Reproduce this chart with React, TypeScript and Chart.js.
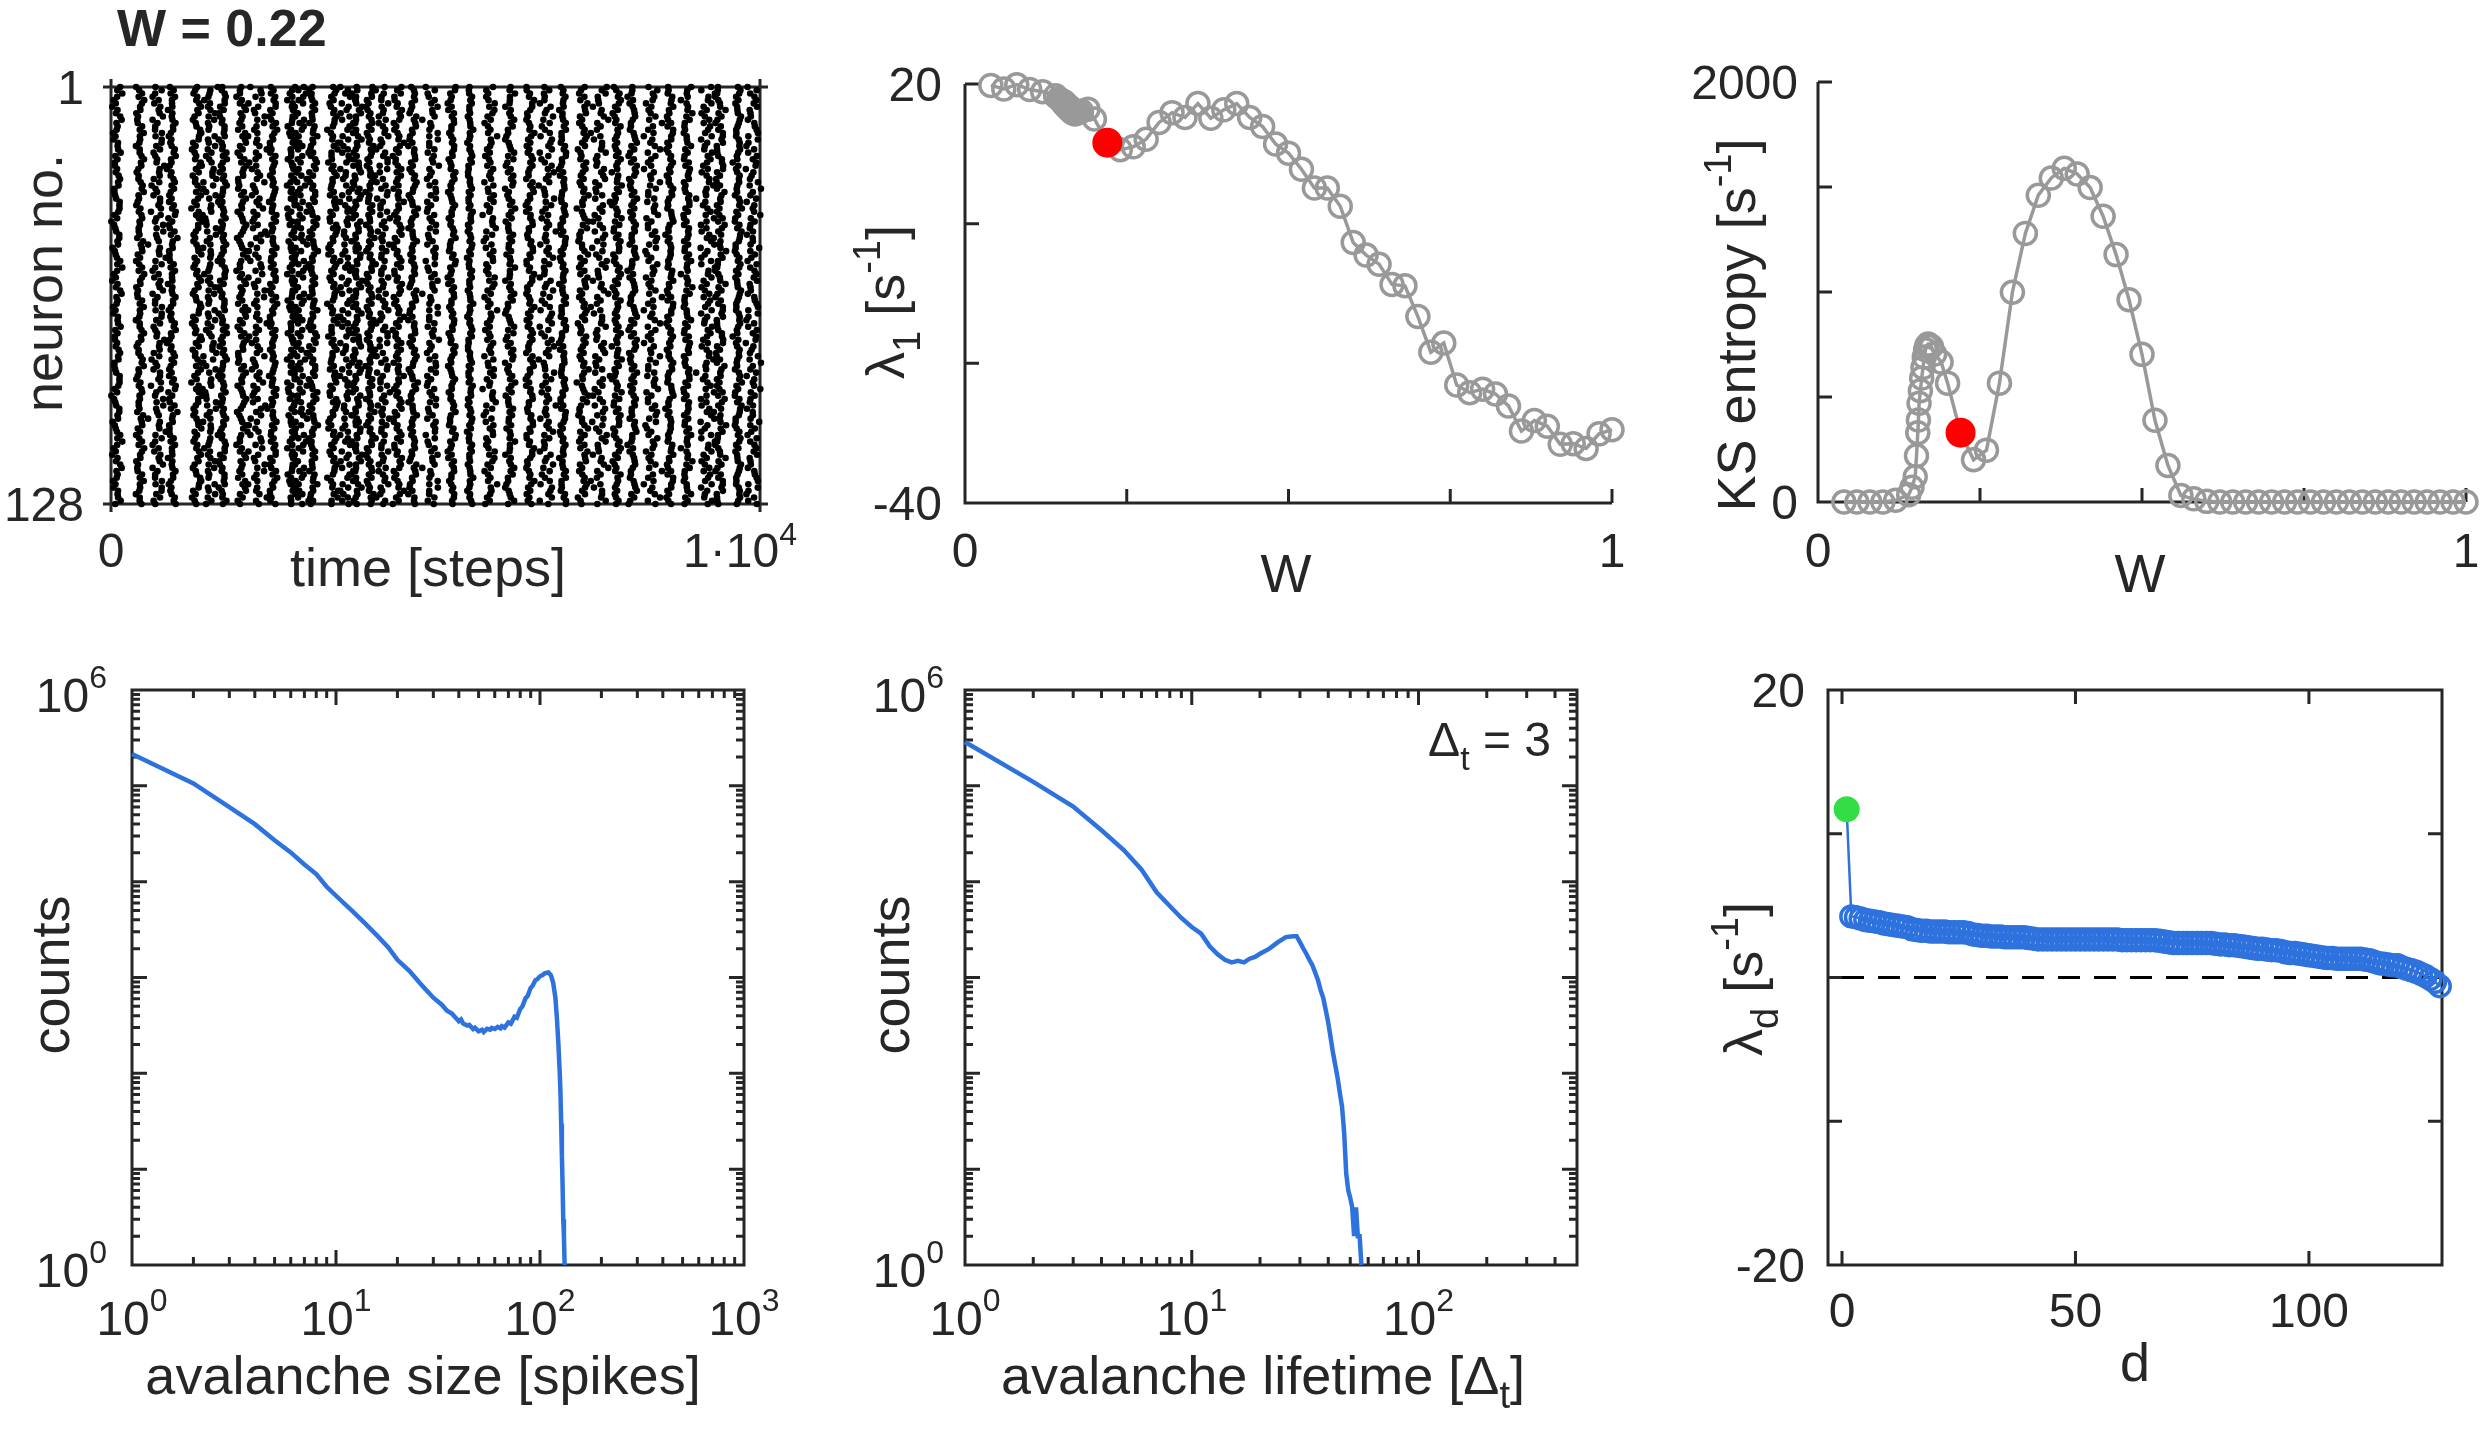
import React, { useEffect, useRef } from 'react';
import { Chart, registerables } from 'chart.js';

Chart.register(...registerables);

const PAGE_W = 2482;
const PAGE_H = 1441;
const FONT = '"Liberation Sans", Arial, Helvetica, sans-serif';
const AXIS_COLOR = '#262626';
const GRAY = '#999999';
const BLUE = '#2E72DE';
const RED = '#FF0000';
const GREEN = '#33DD44';
const TICK = 48;
const EXP = 32;
const LABEL = 54;
const SUB = 38;

// ---------- Panel A: raster (burst onsets in time steps) ----------
const burstOnsets = [92, 447, 724, 940, 1325, 1525, 1726, 2019, 2250, 2496, 2789, 2912, 3112, 3421, 3636, 3790, 3990, 4191, 4422, 4653, 4946, 5254, 5532, 5840, 6148, 6456, 6718, 6965, 7273, 7535, 7797, 8043, 8336, 8613, 8875, 9183, 9383, 9661, 9892];
const burstWander = [1.2, 1.0, 1.4, 1.1, 1.2, 1.5, 1.0, 1.3, 1.5, 1.0, 1.2, 1.4, 1.1, 1.3, 1.5, 1.2, 1.0, 1.4, 1.2, 1.1, 1.4, 1.0, 0.6, 1.3, 1.2, 1.1, 1.4, 1.0, 1.3, 1.5, 1.1, 1.2, 1.4, 1.0, 1.1, 1.5, 1.2, 1.0, 1.4];
const burstScatter = [0.8, 0.7, 1.8, 0.8, 0.9, 1.9, 0.7, 0.9, 2.0, 0.8, 0.9, 1.8, 0.8, 0.9, 2.0, 0.9, 0.7, 1.8, 0.9, 0.8, 1.7, 0.7, 0.5, 1.6, 0.9, 0.8, 1.8, 0.7, 0.9, 2.0, 0.8, 0.9, 1.8, 0.7, 0.8, 2.0, 0.9, 0.7, 1.7];
const spikeJitter = [0, 12, 28, 18, 30, 45, 35, 20, 8, -10, -22, -12, -30, -45, -38, -20, -5, 10, 2, 18, 35, 50, 40, 25, 30, 12, -5, -18, -8, -25, -40, -55, -42, -30, -15, -25, -10, 5, 20, 10, 25, 38, 22, 5, -8, 6, -12, -28, -20, -35, -22, -8, -15];
const neuronCount = 128;

// ---------- Panels B, C: sweep over W ----------
const wSweep = [0.04, 0.06, 0.08, 0.10, 0.12, 0.14, 0.145, 0.15, 0.152, 0.154, 0.155, 0.156, 0.158, 0.16, 0.162, 0.164, 0.166, 0.168, 0.17, 0.175, 0.18, 0.19,
  0.20, 0.22, 0.24, 0.26, 0.28, 0.30, 0.32, 0.34, 0.36, 0.38, 0.40, 0.42, 0.44, 0.46, 0.48, 0.50, 0.52, 0.54, 0.56, 0.58, 0.60,
  0.62, 0.64, 0.66, 0.68, 0.70, 0.72, 0.74, 0.76, 0.78, 0.80, 0.82, 0.84, 0.86, 0.88, 0.90, 0.92, 0.94, 0.96, 0.98, 1.00];
const lambda1 = [19.8, 19.3, 19.9, 19.2, 18.9, 18.3, 17.9, 17.6, 17.2, 17.4, 16.9, 17.1, 16.6, 16.8, 16.2, 16.5, 15.9, 16.2, 15.7, 15.9, 16.1, 16.4,
  15.0, 11.6, 10.6, 11.0, 12.1, 14.5, 15.9, 15.2, 17.2, 15.1, 16.3, 17.2, 15.2, 13.9, 11.4, 10.1, 7.8, 5.1, 5.1, 2.5, -2.7,
  -4.5, -5.8, -8.7, -8.9, -13.3, -18.4, -17.1, -23.1, -24.2, -23.7, -24.4, -26.1, -29.7, -28.2, -29.0, -31.6, -31.5, -32.2, -30.1, -29.5];
const ksEntropy = [0, 0, 0, 0, 8, 35, 70, 120, 220, 330, 390, 470, 530, 590, 640, 690, 725, 745, 752, 740, 705, 667,
  566, 330, 201, 247, 566, 999, 1279, 1461, 1543, 1589, 1562, 1498, 1361, 1178, 963, 703, 389, 174, 31, 15, 3,
  0, 0, 0, 0, 0, 0, 0, 0, 0, 0, 0, 0, 0, 0, 0, 0, 0, 0, 0, 0];
const selectedW = 0.22;

// ---------- Panel D: avalanche sizes ----------
const avalancheSizes = [1, 2, 3, 4, 5, 6, 7, 8, 9, 10, 12, 14, 16, 18, 20, 23, 26, 30, 33, 35, 37, 38, 40, 41, 42, 44, 45, 47, 48, 50, 52, 53, 55, 57, 58, 60, 62, 64, 65, 67, 70, 72, 75, 77, 80, 82, 85, 87, 90, 92, 95, 97, 100, 103, 105, 108, 110, 113, 116, 119, 121, 123, 125, 126, 127, 128, 129, 130, 131, 132];
const sizeCounts = [215000, 106000, 60100, 39800, 27000, 20200, 15100, 12000, 8850, 7130, 4950, 3610, 2700, 2070, 1530, 1160, 855, 615, 520, 450, 420, 395, 350, 365, 330, 315, 320, 290, 300, 275, 285, 270, 292, 285, 298, 290, 305, 295, 310, 300, 340, 330, 390, 380, 470, 500, 610, 640, 780, 820, 940, 960, 1030, 1060, 1100, 1120, 1130, 1060, 885, 615, 379, 207, 100, 62, 30, 14, 7, 3, 2, 1];

// ---------- Panel E: avalanche lifetimes ----------
const lifetimes = [1, 2, 3, 4, 5, 6, 7, 8, 9, 10, 11, 12, 13, 14, 15, 16, 17, 18, 19, 20, 22, 24, 26, 28, 29, 30, 31, 32, 33, 34, 35, 36, 37, 38, 39, 40, 41, 42, 43, 44, 45, 46, 47, 48, 49, 50, 51, 52, 53, 54, 55, 56];
const lifetimeCounts = [287000, 110000, 60800, 34400, 21500, 13400, 7740, 5580, 4180, 3360, 2870, 2120, 1750, 1530, 1440, 1490, 1440, 1570, 1640, 1770, 2000, 2340, 2640, 2700, 2700, 2340, 2020, 1770, 1530, 1350, 1130, 942, 738, 615, 455, 336, 233, 162, 120, 89, 62, 45, 24, 9, 6, 5, 4, 2, 4, 2, 2, 1];

// ---------- Panel F: Lyapunov spectrum ----------
const lyapSpectrum = [11.7,
  4.25, 4.2, 4.1, 4.0, 3.95, 3.9, 3.85, 3.75, 3.7, 3.65,
  3.6, 3.55, 3.5, 3.35, 3.3, 3.25, 3.25, 3.2, 3.2, 3.2,
  3.2, 3.15, 3.15, 3.15, 3.15, 3.1, 3.0, 2.95, 2.9, 2.9,
  2.85, 2.85, 2.85, 2.8, 2.8, 2.8, 2.8, 2.8, 2.75, 2.7,
  2.65, 2.65, 2.65, 2.65, 2.65, 2.65, 2.65, 2.65, 2.65, 2.65,
  2.65, 2.65, 2.65, 2.65, 2.65, 2.65, 2.65, 2.65, 2.6, 2.6,
  2.6, 2.6, 2.6, 2.6, 2.6, 2.6, 2.55, 2.5, 2.45, 2.4,
  2.4, 2.4, 2.4, 2.4, 2.4, 2.4, 2.4, 2.4, 2.35, 2.3,
  2.3, 2.25, 2.25, 2.2, 2.15, 2.1, 2.05, 2.0, 2.0, 1.95,
  1.9, 1.9, 1.85, 1.75, 1.7, 1.7, 1.65, 1.6, 1.55, 1.5,
  1.45, 1.4, 1.35, 1.35, 1.3, 1.3, 1.3, 1.3, 1.3, 1.3,
  1.25, 1.2, 1.1, 1.0, 0.95, 0.9, 0.85, 0.85, 0.7, 0.6,
  0.5, 0.4, 0.25, 0.1, -0.1, -0.3, -0.6];

type Seg = { t: string; size?: number; dy?: number; bold?: boolean };
type TextItem = { segs: Seg[]; x: number; y: number; align: 'left' | 'center' | 'right'; rotate?: boolean };
type TickLabel = { v: number; segs: Seg[]; dx?: number };
type PanelSpec = {
  area: [number, number, number, number];
  box: boolean;
  tickDir: 'in' | 'out';
  tickLen: number;
  xTicks: number[];
  yTicks: number[];
  xMinor?: number[];
  yMinor?: number[];
  minorLen?: number;
  xLabels: TickLabel[];
  xLabelY: number;
  yLabels: TickLabel[];
  yLabelRight: number;
  yLabelDy: number;
  texts: TextItem[];
};

function fontOf(s: Seg) {
  return `${s.bold ? 'bold ' : ''}${s.size || LABEL}px ${FONT}`;
}

function drawRich(ctx: CanvasRenderingContext2D, segs: Seg[], x: number, y: number, align: 'left' | 'center' | 'right', rotate = false) {
  ctx.save();
  ctx.translate(x, y);
  if (rotate) ctx.rotate(-Math.PI / 2);
  ctx.textBaseline = 'alphabetic';
  ctx.textAlign = 'left';
  ctx.fillStyle = AXIS_COLOR;
  const widths = segs.map((s) => {
    ctx.font = fontOf(s);
    return ctx.measureText(s.t).width;
  });
  const total = widths.reduce((a, b) => a + b, 0);
  let cx = align === 'left' ? 0 : align === 'center' ? -total / 2 : -total;
  segs.forEach((s, i) => {
    ctx.font = fontOf(s);
    ctx.fillText(s.t, cx, s.dy || 0);
    cx += widths[i];
  });
  ctx.restore();
}

function decorPlugin(spec: PanelSpec) {
  return {
    id: 'panelDecor',
    beforeDatasetsDraw(chart: any) {
      const ctx: CanvasRenderingContext2D = chart.ctx;
      const { left, right, top, bottom } = chart.chartArea;
      const xs = chart.scales.x;
      const ys = chart.scales.y;
      const dir = spec.tickDir === 'in' ? 1 : -1;
      ctx.save();
      ctx.strokeStyle = AXIS_COLOR;
      ctx.lineWidth = 3;
      ctx.beginPath();
      if (spec.box) {
        ctx.rect(left, top, right - left, bottom - top);
      } else {
        ctx.moveTo(left, top);
        ctx.lineTo(left, bottom);
        ctx.lineTo(right, bottom);
      }
      const xt = (vals: number[], len: number) => {
        vals.forEach((v) => {
          const px = xs.getPixelForValue(v);
          ctx.moveTo(px, bottom);
          ctx.lineTo(px, bottom - dir * len);
          if (spec.box) {
            ctx.moveTo(px, top);
            ctx.lineTo(px, top + dir * len);
          }
        });
      };
      const yt = (vals: number[], len: number) => {
        vals.forEach((v) => {
          const py = ys.getPixelForValue(v);
          ctx.moveTo(left, py);
          ctx.lineTo(left + dir * len, py);
          if (spec.box) {
            ctx.moveTo(right, py);
            ctx.lineTo(right - dir * len, py);
          }
        });
      };
      xt(spec.xTicks, spec.tickLen);
      yt(spec.yTicks, spec.tickLen);
      if (spec.xMinor) xt(spec.xMinor, spec.minorLen || 8);
      if (spec.yMinor) yt(spec.yMinor, spec.minorLen || 8);
      ctx.stroke();
      ctx.restore();
    },
    afterDraw(chart: any) {
      const ctx: CanvasRenderingContext2D = chart.ctx;
      const xs = chart.scales.x;
      const ys = chart.scales.y;
      spec.xLabels.forEach((l) => {
        drawRich(ctx, l.segs, xs.getPixelForValue(l.v) + (l.dx || 0), spec.xLabelY, 'center');
      });
      spec.yLabels.forEach((l) => {
        drawRich(ctx, l.segs, spec.yLabelRight, ys.getPixelForValue(l.v) + spec.yLabelDy, 'right');
      });
      spec.texts.forEach((t) => drawRich(ctx, t.segs, t.x, t.y, t.align, !!t.rotate));
    },
  };
}

const tk = (t: string): Seg[] => [{ t, size: TICK }];
const pow10 = (e: string, dy: number): Seg[] => [{ t: '10', size: TICK }, { t: e, size: EXP, dy }];

function logMinor(maxDecade: number, maxVal: number) {
  const out: number[] = [];
  for (let d = 0; d < maxDecade; d++) {
    for (let k = 2; k <= 9; k++) {
      const v = k * Math.pow(10, d);
      if (v <= maxVal) out.push(v);
    }
  }
  return out;
}

function buildConfig(spec: PanelSpec, datasets: any[], xScale: any, yScale: any) {
  const [l, t, r, b] = spec.area;
  return {
    type: 'scatter',
    data: { datasets },
    options: {
      animation: false,
      responsive: false,
      maintainAspectRatio: false,
      devicePixelRatio: 1,
      events: [],
      layout: { padding: { left: l, top: t, right: PAGE_W - r, bottom: PAGE_H - b } },
      plugins: { legend: { display: false }, tooltip: { enabled: false } },
      scales: { x: { ...xScale, display: false }, y: { ...yScale, display: false } },
      elements: { line: { tension: 0 } },
    },
    plugins: [decorPlugin(spec)],
  };
}

function makeConfigs() {
  // Panel A: raster — each burst is a wavy column of one spike per neuron
  const raster: { x: number; y: number }[] = [];
  const J = spikeJitter.length;
  burstOnsets.forEach((t0, k) => {
    for (let n = 1; n <= neuronCount; n++) {
      const slow = spikeJitter[(2 * n + 11 * k) % J] * burstWander[k];
      const fast = spikeJitter[(7 * n + 3 * k) % J] * burstScatter[k];
      raster.push({ x: t0 + slow + fast, y: n });
    }
  });
  const specA: PanelSpec = {
    area: [111, 87, 760, 504],
    box: true,
    tickDir: 'out',
    tickLen: 8,
    xTicks: [0, 10000],
    yTicks: [1, 128],
    xLabels: [
      { v: 0, segs: tk('0') },
      { v: 10000, segs: [{ t: '1\u00B710', size: TICK }, { t: '4', size: EXP, dy: -22 }], dx: -20 },
    ],
    xLabelY: 567,
    yLabels: [
      { v: 1, segs: tk('1') },
      { v: 128, segs: tk('128') },
    ],
    yLabelRight: 84,
    yLabelDy: 17,
    texts: [
      { segs: [{ t: 'W = 0.22', size: 52, bold: true }], x: 117, y: 46, align: 'left' },
      { segs: [{ t: 'neuron no.' }], x: 62, y: 283, align: 'center', rotate: true },
      { segs: [{ t: 'time [steps]' }], x: 428, y: 586, align: 'center' },
    ],
  };
  const cfgA = buildConfig(
    specA,
    [{ data: raster, pointRadius: 3.3, pointBackgroundColor: '#000000', pointBorderWidth: 0, showLine: false, clip: false }],
    { type: 'linear', min: 0, max: 10000 },
    { type: 'linear', min: 1, max: 128, reverse: true },
  );

  const selIdx = wSweep.indexOf(selectedW);
  const grayDs = (vals: number[]) => ({
    data: wSweep.map((w, i) => ({ x: w, y: vals[i] })),
    showLine: true,
    borderColor: GRAY,
    borderWidth: 3.5,
    pointRadius: 11,
    pointBorderColor: GRAY,
    pointBorderWidth: 3.5,
    pointBackgroundColor: 'rgba(255,255,255,0)',
    clip: false,
  });
  const redDs = (vals: number[]) => ({
    data: [{ x: wSweep[selIdx], y: vals[selIdx] }],
    pointRadius: 15,
    pointBackgroundColor: RED,
    pointBorderWidth: 0,
    showLine: false,
    clip: false,
  });

  // Panel B
  const specB: PanelSpec = {
    area: [965, 84, 1612, 503],
    box: false,
    tickDir: 'in',
    tickLen: 14,
    xTicks: [0, 0.25, 0.5, 0.75, 1],
    yTicks: [-40, -20, 0, 20],
    xLabels: [{ v: 0, segs: tk('0') }, { v: 1, segs: tk('1') }],
    xLabelY: 567,
    yLabels: [{ v: 20, segs: tk('20') }, { v: -40, segs: tk('-40') }],
    yLabelRight: 942,
    yLabelDy: 17,
    texts: [
      {
        segs: [{ t: '\u03BB' }, { t: '1', size: SUB, dy: 16 }, { t: ' [s' }, { t: '-1', size: SUB, dy: -24 }, { t: ']' }],
        x: 904, y: 302, align: 'center', rotate: true,
      },
      { segs: [{ t: 'W' }], x: 1286, y: 592, align: 'center' },
    ],
  };
  const cfgB = buildConfig(specB, [redDs(lambda1), grayDs(lambda1)], { type: 'linear', min: 0, max: 1 }, { type: 'linear', min: -40, max: 20 });

  // Panel C
  const specC: PanelSpec = {
    area: [1818, 82, 2466, 502],
    box: false,
    tickDir: 'in',
    tickLen: 14,
    xTicks: [0, 0.25, 0.5, 0.75, 1],
    yTicks: [0, 500, 1000, 1500, 2000],
    xLabels: [{ v: 0, segs: tk('0') }, { v: 1, segs: tk('1') }],
    xLabelY: 567,
    yLabels: [{ v: 2000, segs: tk('2000') }, { v: 0, segs: tk('0') }],
    yLabelRight: 1798,
    yLabelDy: 17,
    texts: [
      { segs: [{ t: 'KS entropy [s' }, { t: '-1', size: SUB, dy: -24 }, { t: ']' }], x: 1755, y: 325, align: 'center', rotate: true },
      { segs: [{ t: 'W' }], x: 2140, y: 592, align: 'center' },
    ],
  };
  const cfgC = buildConfig(specC, [redDs(ksEntropy), grayDs(ksEntropy)], { type: 'linear', min: 0, max: 1 }, { type: 'linear', min: 0, max: 2000 });

  const blueLine = (xs: number[], ys: number[]) => ({
    data: xs.map((x, i) => ({ x, y: ys[i] })),
    showLine: true,
    borderColor: BLUE,
    borderWidth: 4.5,
    pointRadius: 0,
    clip: false,
  });
  const yLogLabels: TickLabel[] = [
    { v: 1e6, segs: pow10('6', -24) },
    { v: 1, segs: pow10('0', -24) },
  ];

  // Panel D
  const specD: PanelSpec = {
    area: [132, 690, 744, 1265],
    box: true,
    tickDir: 'in',
    tickLen: 15,
    minorLen: 8,
    xTicks: [1, 10, 100, 1000],
    yTicks: [1, 10, 100, 1000, 1e4, 1e5, 1e6],
    xMinor: logMinor(3, 1000),
    yMinor: logMinor(6, 1e6),
    xLabels: [
      { v: 1, segs: pow10('0', -24) },
      { v: 10, segs: pow10('1', -24) },
      { v: 100, segs: pow10('2', -24) },
      { v: 1000, segs: pow10('3', -24) },
    ],
    xLabelY: 1335,
    yLabels: yLogLabels,
    yLabelRight: 107,
    yLabelDy: 22,
    texts: [
      { segs: [{ t: 'counts' }], x: 69, y: 975, align: 'center', rotate: true },
      { segs: [{ t: 'avalanche size [spikes]' }], x: 423, y: 1394, align: 'center' },
    ],
  };
  const cfgD = buildConfig(specD, [blueLine(avalancheSizes, sizeCounts)], { type: 'logarithmic', min: 1, max: 1000 }, { type: 'logarithmic', min: 1, max: 1e6 });

  // Panel E
  const specE: PanelSpec = {
    area: [965, 690, 1577, 1265],
    box: true,
    tickDir: 'in',
    tickLen: 15,
    minorLen: 8,
    xTicks: [1, 10, 100],
    yTicks: [1, 10, 100, 1000, 1e4, 1e5, 1e6],
    xMinor: logMinor(3, 500),
    yMinor: logMinor(6, 1e6),
    xLabels: [
      { v: 1, segs: pow10('0', -24) },
      { v: 10, segs: pow10('1', -24) },
      { v: 100, segs: pow10('2', -24) },
    ],
    xLabelY: 1335,
    yLabels: yLogLabels,
    yLabelRight: 944,
    yLabelDy: 22,
    texts: [
      { segs: [{ t: 'counts' }], x: 909, y: 975, align: 'center', rotate: true },
      { segs: [{ t: 'avalanche lifetime [\u0394' }, { t: 't', size: SUB, dy: 14 }, { t: ']' }], x: 1263, y: 1394, align: 'center' },
      { segs: [{ t: '\u0394', size: TICK }, { t: 't', size: 34, dy: 14 }, { t: ' = 3', size: TICK }], x: 1551, y: 756, align: 'right' },
    ],
  };
  const cfgE = buildConfig(specE, [blueLine(lifetimes, lifetimeCounts)], { type: 'logarithmic', min: 1, max: 500 }, { type: 'logarithmic', min: 1, max: 1e6 });

  // Panel F
  const dims = lyapSpectrum.map((_, i) => i + 1);
  const specF: PanelSpec = {
    area: [1828, 690, 2442, 1265],
    box: true,
    tickDir: 'in',
    tickLen: 14,
    xTicks: [0, 50, 100],
    yTicks: [-20, -10, 0, 10, 20],
    xLabels: [{ v: 0, segs: tk('0') }, { v: 50, segs: tk('50') }, { v: 100, segs: tk('100') }],
    xLabelY: 1327,
    yLabels: [{ v: 20, segs: tk('20') }, { v: -20, segs: tk('-20') }],
    yLabelRight: 1805,
    yLabelDy: 17,
    texts: [
      {
        segs: [{ t: '\u03BB' }, { t: 'd', size: SUB, dy: 16 }, { t: ' [s' }, { t: '-1', size: SUB, dy: -24 }, { t: ']' }],
        x: 1762, y: 979, align: 'center', rotate: true,
      },
      { segs: [{ t: 'd' }], x: 2135, y: 1381, align: 'center' },
    ],
  };
  const cfgF = buildConfig(
    specF,
    [
      { data: [{ x: dims[0], y: lyapSpectrum[0] }], pointRadius: 13, pointBackgroundColor: GREEN, pointBorderWidth: 0, showLine: false, clip: false },
      {
        data: dims.map((d, i) => ({ x: d, y: lyapSpectrum[i] })),
        showLine: true,
        borderColor: BLUE,
        borderWidth: 2.5,
        pointRadius: 10.5,
        pointBorderColor: BLUE,
        pointBorderWidth: 3.5,
        pointBackgroundColor: 'rgba(255,255,255,0)',
        clip: false,
      },
      {
        data: [{ x: 0, y: 0 }, { x: 128, y: 0 }],
        showLine: true,
        borderColor: '#000000',
        borderWidth: 3,
        borderDash: [22, 14],
        pointRadius: 0,
      },
    ],
    { type: 'linear', min: -3, max: 128.5 },
    { type: 'linear', min: -20, max: 20 },
  );

  return [cfgA, cfgB, cfgC, cfgD, cfgE, cfgF];
}

export default function App() {
  const refs = useRef<(HTMLCanvasElement | null)[]>([]);
  useEffect(() => {
    document.body.style.margin = '0';
    const configs = makeConfigs();
    const charts = configs.map((cfg, i) => new Chart(refs.current[i] as HTMLCanvasElement, cfg as any));
    return () => charts.forEach((c) => c.destroy());
  }, []);
  return (
    <div style={{ position: 'absolute', left: 0, top: 0, width: PAGE_W, height: PAGE_H, background: '#ffffff', overflow: 'hidden' }}>
      {[0, 1, 2, 3, 4, 5].map((i) => (
        <canvas
          key={i}
          ref={(el) => { refs.current[i] = el; }}
          width={PAGE_W}
          height={PAGE_H}
          style={{ position: 'absolute', left: 0, top: 0, width: PAGE_W, height: PAGE_H }}
        />
      ))}
    </div>
  );
}
